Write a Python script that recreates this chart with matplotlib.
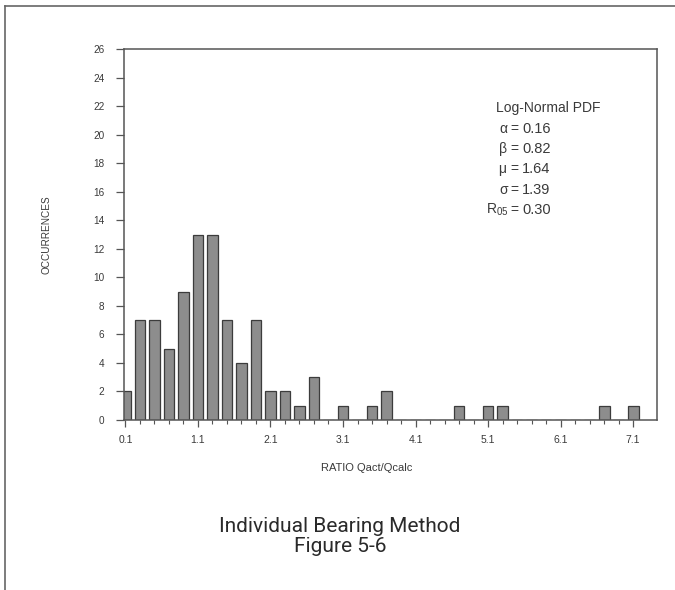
import matplotlib
matplotlib.use("Agg")
import matplotlib.pyplot as plt
from matplotlib.lines import Line2D
import numpy as np

# Histogram of measured/calculated capacity ratios (bin centres, 0.2 wide)
bin_centers = [round(0.1 + 0.2 * k, 1) for k in range(36)]
counts = [2, 7, 7, 5, 9, 13, 13, 7, 4, 7, 2, 2, 1, 3, 0, 1, 0, 1, 2,
          0, 0, 0, 0, 1, 0, 1, 1, 0, 0, 0, 0, 0, 0, 1, 0, 1]

x_tick_values = [0.1, 1.1, 2.1, 3.1, 4.1, 5.1, 6.1, 7.1]
x_tick_labels = ["0.1", "1.1", "2.1", "3.1", "4.1", "5.1", "6.1", "7.1"]
y_tick_values = list(range(0, 27, 2))

stat_symbols = ["\u03b1", "\u03b2", "\u03bc", "\u03c3", r"R$_{05}$"]
stat_values = ["0.16", "0.82", "1.64", "1.39", "0.30"]

plt.rcParams["font.family"] = ["Liberation Sans", "DejaVu Sans"]
plt.rcParams["mathtext.fontset"] = "custom"
plt.rcParams["mathtext.rm"] = "Liberation Sans"
plt.rcParams["mathtext.it"] = "Liberation Sans"

text_col = "#3a3a3a"
axis_col = "#555555"

fig = plt.figure(figsize=(6.75, 5.9), dpi=100)
ax = fig.add_axes([124 / 675, 1 - 420 / 590, 533 / 675, 371 / 590])

ax.bar(bin_centers, counts, width=0.15, color="#8d8d8d",
       edgecolor="#3c3c3c", linewidth=0.9, zorder=2)

ax.set_xlim(0.08, 7.43)
ax.set_ylim(0, 26)

ax.set_xticks(x_tick_values)
ax.set_xticklabels(x_tick_labels)
ax.set_xticks(np.arange(0.1, 7.3, 0.2), minor=True)
ax.set_yticks(y_tick_values)

for s in ax.spines.values():
    s.set_color(axis_col)
    s.set_linewidth(1.1)

ax.tick_params(axis="x", which="major", direction="out", length=5, width=0.9,
               color=axis_col, labelsize=7.5, labelcolor=text_col, pad=6)
ax.tick_params(axis="x", which="minor", direction="out", length=3, width=0.8,
               color=axis_col)
ax.tick_params(axis="y", which="major", direction="out", length=6, width=0.9,
               color=axis_col, labelsize=7.2, labelcolor=text_col, pad=8)

ax.set_xlabel("RATIO Qact/Qcalc", fontsize=8, color=text_col)
ax.xaxis.set_label_coords(0.455, -0.115)
ax.set_ylabel("OCCURRENCES", fontsize=7.2, color=text_col, labelpad=30)


def ax_x(px):
    return (px - 124) / 533


def ax_y(py):
    return (420 - py) / 371


# Fitted distribution parameters
ax.text(ax_x(496), ax_y(108), "Log-Normal PDF", transform=ax.transAxes,
        fontsize=10, color=text_col, va="center", ha="left")
sym_x = [499, 499, 498, 499, 486]
rows_y = [129, 149, 169, 190, 210]
for sx, py, sym, val in zip(sym_x, rows_y, stat_symbols, stat_values):
    eq_x = 510
    ax.text(ax_x(sx), ax_y(py), sym, transform=ax.transAxes, fontsize=10,
            color=text_col, va="center", ha="left")
    ax.text(ax_x(eq_x), ax_y(py), "=", transform=ax.transAxes, fontsize=10,
            color=text_col, va="center", ha="left")
    ax.text(ax_x(eq_x + 12), ax_y(py), val, transform=ax.transAxes,
            fontsize=10.5, color=text_col, va="center", ha="left")

# Caption
cap_font = ["Roboto", "DejaVu Sans"]
fig.text(340 / 675, 1 - 526 / 590, "Individual Bearing Method", fontsize=15,
         color="#2a2a2a", ha="center", va="center", family=cap_font)
fig.text(340 / 675, 1 - 547 / 590, "Figure 5-6", fontsize=15,
         color="#2a2a2a", ha="center", va="center", family=cap_font)

# Page frame (top and left edges)
fig.add_artist(Line2D([5 / 675, 1.0], [1 - 6 / 590, 1 - 6 / 590],
                      color="#666666", linewidth=1.2))
fig.add_artist(Line2D([5 / 675, 5 / 675], [0.0, 1 - 6 / 590],
                      color="#666666", linewidth=1.2))

fig.savefig("out.png", dpi=100)
